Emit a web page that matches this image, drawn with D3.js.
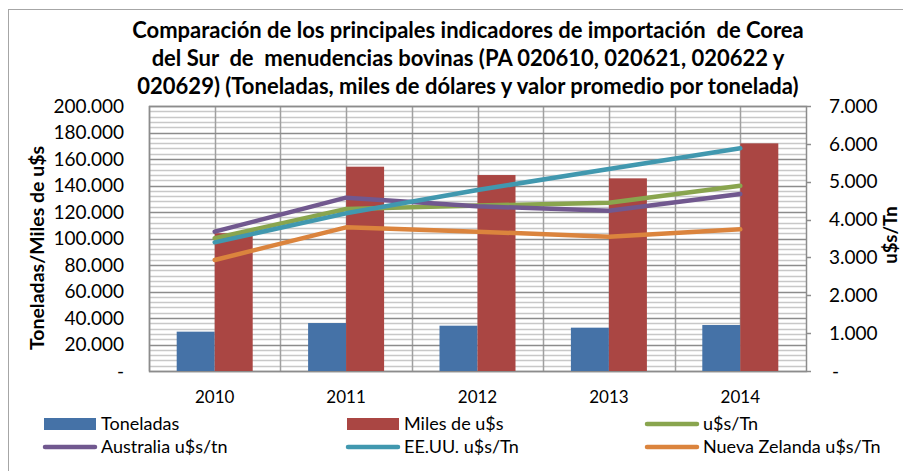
<!DOCTYPE html>
<html>
<head>
<meta charset="utf-8">
<script src="https://cdn.jsdelivr.net/npm/d3@7"></script>
<style>
  body { margin: 0; background: #fff; }
  svg { font-family: Lato, "Liberation Sans", sans-serif; }
  text { white-space: pre; }
</style>
</head>
<body>
<script>
  var width = 903, height = 471;

  // data
  var years = ["2010", "2011", "2012", "2013", "2014"];
  var toneladas = [29700, 36200, 34200, 32700, 34700];
  var milesUsd = [104000, 154200, 147900, 145400, 171800];
  var usdTn = [3505, 4279, 4370, 4446, 4895];
  var australia = [3680, 4578, 4350, 4234, 4675];
  var eeuu = [3399, 4165, 4781, 5336, 5882];
  var nuevaZelanda = [2932, 3795, 3680, 3548, 3742];

  var leftTicks = [0, 20000, 40000, 60000, 80000, 100000, 120000, 140000, 160000, 180000, 200000];
  var rightTicks = [0, 1000, 2000, 3000, 4000, 5000, 6000, 7000];

  var titleLines = [
    "Comparación de los principales indicadores de importación  de Corea",
    "del Sur  de  menudencias bovinas (PA 020610, 020621, 020622 y",
    "020629) (Toneladas, miles de dólares y valor promedio por tonelada)"
  ];

  var barSeries = [
    {name: "Toneladas", values: toneladas, color: "#4572A7"},
    {name: "Miles de u$s", values: milesUsd, color: "#AA4643"}
  ];
  var lineSeries = [
    {name: "u$s/Tn", values: usdTn, color: "#89A54E"},
    {name: "Australia u$s/tn", values: australia, color: "#71588F"},
    {name: "EE.UU. u$s/Tn", values: eeuu, color: "#4198AF"},
    {name: "Nueva Zelanda u$s/Tn", values: nuevaZelanda, color: "#DB843D"}
  ];

  var plot = {left: 149, right: 806, top: 106, bottom: 371};

  var loc = d3.formatLocale({decimal: ",", thousands: ".", grouping: [3], currency: ["", ""]});
  var fmt = function(v) { return v === 0 ? "-" : loc.format(",.0f")(v); };

  var svg = d3.select("body").append("svg")
    .attr("width", width)
    .attr("height", height);

  // outer chart border
  svg.append("rect")
    .attr("x", 8.5).attr("y", 9.5)
    .attr("width", 905).attr("height", 470)
    .attr("fill", "#fff")
    .attr("stroke", "#a6a6a6");

  var x = d3.scaleBand().domain(years).range([plot.left, plot.right]);
  var xInner = d3.scaleBand().domain(["t", "m"]).range([0, x.bandwidth()]).paddingOuter(0.729);
  var yL = d3.scaleLinear().domain([0, 200000]).range([plot.bottom, plot.top]);
  var yR = d3.scaleLinear().domain([0, 7000]).range([plot.bottom, plot.top]);

  // minor grid
  var grid = svg.append("g");
  grid.selectAll("line.minor")
    .data(d3.range(0, 200001, 4000).filter(function(v) { return v % 20000 !== 0; }))
    .enter().append("line")
    .attr("x1", plot.left).attr("x2", plot.right)
    .attr("y1", function(d) { return Math.round(yL(d)) + 0.5; })
    .attr("y2", function(d) { return Math.round(yL(d)) + 0.5; })
    .attr("stroke", "#c8c8c8").attr("stroke-width", 1.5);

  // vertical grid at category edges and centres
  var vx = [];
  years.forEach(function(y) { vx.push(x(y)); vx.push(x(y) + x.bandwidth() / 2); });
  grid.selectAll("line.v")
    .data(vx)
    .enter().append("line")
    .attr("x1", function(d) { return Math.round(d) + 0.5; })
    .attr("x2", function(d) { return Math.round(d) + 0.5; })
    .attr("y1", plot.top).attr("y2", plot.bottom)
    .attr("stroke", "#a0a0a0").attr("stroke-width", 1.5);

  // major grid
  grid.selectAll("line.major")
    .data(leftTicks)
    .enter().append("line")
    .attr("x1", plot.left).attr("x2", plot.right)
    .attr("y1", function(d) { return Math.round(yL(d)) + 0.5; })
    .attr("y2", function(d) { return Math.round(yL(d)) + 0.5; })
    .attr("stroke", "#8c8c8c").attr("stroke-width", 1.5);

  // plot frame
  svg.append("rect")
    .attr("x", plot.left + 0.5).attr("y", plot.top + 0.5)
    .attr("width", plot.right - plot.left).attr("height", plot.bottom - plot.top)
    .attr("fill", "none").attr("stroke", "#8c8c8c").attr("stroke-width", 1.5);

  // bars
  var keys = ["t", "m"];
  barSeries.forEach(function(s, k) {
    svg.append("g").selectAll("rect")
      .data(s.values)
      .enter().append("rect")
      .attr("x", function(d, i) { return x(years[i]) + xInner(keys[k]); })
      .attr("width", xInner.bandwidth())
      .attr("y", function(d) { return yL(d); })
      .attr("height", function(d) { return plot.bottom - yL(d); })
      .attr("fill", s.color);
  });

  // lines
  var line = d3.line()
    .x(function(d, i) { return x(years[i]) + x.bandwidth() / 2; })
    .y(function(d) { return yR(d); });
  lineSeries.forEach(function(s) {
    svg.append("path")
      .attr("d", line(s.values))
      .attr("fill", "none")
      .attr("stroke", s.color)
      .attr("stroke-width", 4.5)
      .attr("stroke-linejoin", "round")
      .attr("stroke-linecap", "round");
  });

  // left axis labels
  svg.append("g").selectAll("text")
    .data(leftTicks)
    .enter().append("text")
    .attr("x", 124)
    .attr("y", function(d) { return yL(d); })
    .attr("dy", "0.35em")
    .attr("text-anchor", "end")
    .attr("font-size", 19)
    .text(fmt);

  // right axis ticks and labels
  svg.append("g").selectAll("line")
    .data(rightTicks)
    .enter().append("line")
    .attr("x1", plot.right).attr("x2", plot.right + 5)
    .attr("y1", function(d) { return Math.round(yR(d)) + 0.5; })
    .attr("y2", function(d) { return Math.round(yR(d)) + 0.5; })
    .attr("stroke", "#8c8c8c").attr("stroke-width", 1.5);
  svg.append("g").selectAll("text")
    .data(rightTicks)
    .enter().append("text")
    .attr("x", function(d) { return d === 0 ? 832 : 829; })
    .attr("y", function(d) { return yR(d); })
    .attr("dy", "0.35em")
    .attr("font-size", 19)
    .text(fmt);

  // x labels
  svg.append("g").selectAll("text")
    .data(years)
    .enter().append("text")
    .attr("x", function(d) { return x(d) + x.bandwidth() / 2; })
    .attr("y", 397)
    .attr("dy", "0.35em")
    .attr("text-anchor", "middle")
    .attr("font-size", 17)
    .text(function(d) { return d; });

  // axis titles
  svg.append("text")
    .attr("transform", "translate(37,248) rotate(-90)")
    .attr("text-anchor", "middle")
    .attr("dy", "0.35em")
    .attr("font-size", 19.5)
    .attr("font-weight", "bold")
    .text("Toneladas/Miles de u$s");
  svg.append("text")
    .attr("transform", "translate(891,235) rotate(-90)")
    .attr("text-anchor", "middle")
    .attr("dy", "0.35em")
    .attr("font-size", 18.5)
    .attr("font-weight", "bold")
    .text("u$s/Tn");

  // title
  svg.append("g").selectAll("text")
    .data(titleLines)
    .enter().append("text")
    .attr("x", 468)
    .attr("y", function(d, i) { return 30 + i * 28; })
    .attr("dy", "0.35em")
    .attr("text-anchor", "middle")
    .attr("font-size", 22)
    .attr("font-weight", "bold")
    .text(function(d) { return d; });

  // legend
  var legendItems = barSeries.map(function(s) { return {name: s.name, color: s.color, bar: true}; })
    .concat(lineSeries.map(function(s) { return {name: s.name, color: s.color, bar: false}; }));
  var colX = [43, 346, 645];
  var rowY = [424, 447];
  var leg = svg.append("g").selectAll("g")
    .data(legendItems)
    .enter().append("g")
    .attr("transform", function(d, i) { return "translate(" + colX[i % 3] + "," + rowY[Math.floor(i / 3)] + ")"; });
  leg.each(function(d) {
    var g = d3.select(this);
    if (d.bar) {
      g.append("rect").attr("x", 1).attr("y", -6).attr("width", 52).attr("height", 12).attr("fill", d.color);
    } else {
      g.append("line").attr("x1", 2).attr("x2", 52).attr("y1", 0).attr("y2", 0)
        .attr("stroke", d.color).attr("stroke-width", 4.5).attr("stroke-linecap", "round");
    }
    g.append("text").attr("x", 58).attr("dy", "0.35em").attr("font-size", 18).text(d.name);
  });
</script>
</body>
</html>
